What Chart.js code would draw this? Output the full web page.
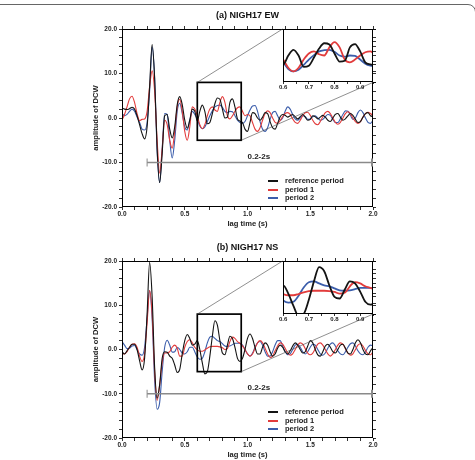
<!DOCTYPE html>
<html>
<head>
<meta charset="utf-8">
<script src="https://cdn.jsdelivr.net/npm/chart.js@4.4.1/dist/chart.umd.min.js"></script>
<style>
  body{margin:0;background:#fff;width:475px;height:460px;overflow:hidden;position:relative}
  canvas{position:absolute;left:0}
  #frame{position:absolute;top:4px;left:-20px;width:494px;height:600px;border:1px solid #666;border-radius:8px}
</style>
</head>
<body>
<div id="frame"></div>
<canvas id="ch-ew"></canvas>
<canvas id="in-ew"></canvas>
<canvas id="ch-ns"></canvas>
<canvas id="in-ns"></canvas>
<script>
// ===================== DATOS =====================
// lag time sampled every 0.02 s from 0 to 2 s
const lagStart=0, lagStep=0.02, lagCount=101;
const lagTimes=Array.from({length:lagCount},(_,i)=>+(lagStart+i*lagStep).toFixed(2));

const seriesLabels=['reference period','period 1','period 2'];
const seriesColors=['#141414','#e23b3b','#3b5dab'];

// (a) NIGH17 EW
const ewReference=[2.2,2.0,1.9,2.1,2.4,2.0,0.5,-1.5,-3.5,-4.7,
  -2.0,7.0,16.5,9.0,-7.0,-14.5,-8.0,0.5,0.8,-2.5,
  -4.5,-2.0,3.0,4.8,3.0,-0.5,-2.3,-0.5,2.0,1.5,
  -0.7,1.5,2.9,1.5,-1.3,-1.0,1.0,3.2,4.5,4.2,
  2.0,0.0,0.2,3.5,4.3,2.5,-0.2,-0.7,-1.0,-2.5,
  -3.0,-1.0,1.2,1.0,0.0,-0.5,0.2,1.2,1.0,-0.8,
  -2.2,-2.5,-1.2,0.3,0.8,0.6,0.2,0.5,0.8,0.3,
  -0.2,0.3,0.8,0.2,-0.5,-0.3,0.5,0.3,-0.2,0.2,
  0.6,0.2,-0.5,-0.8,0.0,0.8,1.0,0.2,-0.5,-0.2,
  0.5,1.0,0.6,-0.3,-1.0,-0.8,0.2,1.0,1.2,0.5,
  0.3];
const ewPeriod1=[-0.5,0.8,2.5,4.3,4.9,3.5,1.0,-0.6,-0.3,-0.2,
  1.5,7.0,10.6,6.0,-5.0,-12.4,-7.0,-0.5,-1.5,-5.0,
  -6.8,-3.0,2.5,4.2,1.5,-3.0,-5.0,-2.0,2.5,2.0,
  0.5,-1.5,-2.4,-1.5,0.5,2.0,2.5,1.8,1.5,3.5,
  4.8,3.5,0.5,-0.2,0.5,1.5,2.3,2.5,1.5,0.5,
  0.8,0.5,-1.0,-2.5,-3.0,-2.2,-0.5,1.0,1.6,1.2,
  0.0,-1.0,-1.2,-0.6,0.3,1.0,1.2,0.8,-0.2,-1.0,
  -1.2,-0.5,0.5,1.2,1.3,0.6,-0.5,-1.3,-1.5,-0.8,
  0.3,1.2,1.5,1.0,0.0,-1.0,-1.4,-1.0,0.0,1.0,
  1.4,1.0,0.0,-0.8,-1.2,-0.8,0.2,1.0,1.3,1.0,
  0.5];
const ewPeriod2=[1.0,0.5,0.8,1.5,2.0,1.5,0.2,-1.0,-2.5,-2.7,
  -1.0,6.0,16.0,9.0,-7.5,-14.5,-7.0,1.0,0.8,-5.0,
  -9.0,-5.0,1.5,3.3,1.0,-2.0,-2.7,-0.5,1.5,0.8,
  -0.2,-1.8,-2.4,-2.0,-0.8,0.5,1.6,2.5,2.8,2.9,
  2.4,1.5,1.2,1.5,1.4,0.5,-0.5,-1.0,-1.2,-0.8,
  0.5,1.8,2.7,2.8,1.5,-0.8,-2.5,-3.0,-2.2,-0.3,
  1.2,1.5,0.5,-0.5,0.0,1.5,2.5,2.0,0.8,-0.2,
  -0.5,0.0,0.5,0.3,-0.3,-0.2,0.3,0.5,0.0,-0.5,
  -0.3,0.3,0.8,0.6,-0.3,-1.0,-1.0,-0.2,0.8,1.6,
  1.5,0.6,-0.3,0.0,1.2,1.8,1.2,0.0,-1.0,-1.2,
  -0.5];

// (b) NIGH17 NS
const nsReference=[-0.5,-1.0,-0.3,0.5,1.2,1.2,0.0,-2.5,-4.6,-2.0,
  8.0,19.7,12.0,-4.0,-11.0,-8.0,-2.0,-0.5,-0.6,-1.5,
  -2.0,-3.5,-5.2,-4.5,-1.0,2.0,3.4,2.5,1.0,1.2,
  2.0,0.0,-3.0,-5.5,-5.0,-1.5,3.0,6.5,5.5,2.0,
  -0.8,-1.2,1.0,3.0,2.5,0.5,-2.0,-2.7,-2.0,0.0,
  2.5,3.5,2.5,0.5,-1.0,-1.0,0.5,1.5,1.0,-0.5,
  -1.5,-1.0,0.3,1.0,0.5,-0.5,-1.0,-0.3,0.8,1.5,
  1.0,0.0,-0.8,-0.5,0.8,2.0,1.5,0.0,-1.2,-1.5,
  -0.5,0.8,1.2,0.5,-0.5,-0.8,0.0,1.0,1.2,0.3,
  -0.8,-1.0,0.0,1.5,2.2,1.5,0.0,-1.0,-1.2,-0.3,
  0.5];
const nsPeriod1=[-0.8,-1.0,-0.5,0.5,1.2,1.3,0.5,-1.5,-2.7,-1.0,
  6.0,13.3,8.0,-5.0,-11.5,-8.0,-3.0,-0.8,-0.8,-0.5,
  0.5,1.0,0.3,-1.5,-1.5,0.5,1.8,2.2,1.5,0.5,
  -0.1,-0.4,-0.4,-0.1,0.3,0.6,0.7,0.7,0.7,0.6,
  0.4,0.0,0.2,1.8,2.8,2.5,1.8,1.4,0.8,0.0,
  -1.0,-1.5,-1.0,0.3,1.5,2.0,1.5,0.3,-1.0,-1.8,
  -1.5,-0.3,0.8,1.5,1.2,0.3,-0.8,-1.3,-1.0,0.0,
  1.0,1.5,1.2,0.2,-0.8,-1.2,-0.8,0.2,1.2,1.5,
  1.0,0.0,-1.0,-1.5,-1.0,0.0,1.0,1.5,1.2,0.2,
  -0.8,-1.3,-1.0,0.0,1.0,1.3,0.8,-0.2,-1.0,-1.2,
  -0.5];
const nsPeriod2=[1.8,1.0,0.2,0.3,0.8,0.9,0.0,-1.0,-1.3,0.5,
  7.0,13.3,7.0,-7.0,-13.5,-12.0,-5.0,0.5,2.1,1.0,
  -0.6,-0.5,0.5,0.0,-0.8,-1.0,-0.5,0.5,0.5,-0.5,
  -1.7,-2.2,-2.0,-0.5,1.5,2.8,3.0,2.5,2.0,1.8,
  1.3,0.8,0.7,0.8,1.1,1.4,1.4,1.4,1.0,0.0,
  -1.0,-1.5,-0.8,0.5,1.5,1.8,1.0,-0.5,-1.5,-1.5,
  -0.5,1.0,2.0,2.0,0.8,-0.5,-1.2,-1.0,0.0,1.0,
  1.2,0.5,-0.5,-1.0,-0.5,0.5,1.2,1.0,0.0,-1.0,
  -1.3,-0.8,0.3,1.2,1.5,0.8,-0.3,-1.0,-1.2,-0.5,
  0.5,1.3,1.5,0.8,-0.3,-1.0,-1.2,-0.5,0.5,1.0,
  0.8];

// ejes, recuadro de zoom y barra de rango
const xRange=[0,2], yRange=[-20,20];
const zoomX=[0.6,0.95], zoomY=[-5,8];          // zoomed window (also inset axes)
const insetSpanX=[1.28,2.0], insetSpanY=[8,20]; // where the inset sits, in main-axis units
const rangeSpan=[0.2,2.0], rangeLevel=-10, rangeText='0.2-2s', rangeLabelAt=1.09;

// ===================== DIBUJO =====================
const FONT='"Liberation Sans", Arial, Helvetica, sans-serif';
Chart.defaults.font.family=FONT;
Chart.defaults.color='#222';

const isMult=(v,m)=>Math.abs(v/m-Math.round(v/m))<1e-6;
const toPts=s=>lagTimes.map((t,k)=>({x:t,y:s[k]}));

const panels=[
  {canvas:'ch-ew',inset:'in-ew',title:'(a) NIGH17 EW',series:[ewReference,ewPeriod1,ewPeriod2],top:0,height:230},
  {canvas:'ch-ns',inset:'in-ns',title:'(b) NIGH17 NS',series:[nsReference,nsPeriod1,nsPeriod2],top:232,height:229}
];

function seg(ctx,x1,y1,x2,y2){ctx.beginPath();ctx.moveTo(x1,y1);ctx.lineTo(x2,y2);ctx.stroke();}

const decor={
  id:'decor',
  afterDatasetsDraw(chart,args,opts){
    const {ctx,chartArea:a,scales:{x,y}}=chart;
    ctx.save();
    // marco
    ctx.strokeStyle='#000';ctx.lineWidth=1;
    ctx.strokeRect(Math.round(a.left)+0.5,Math.round(a.top)+0.5,Math.round(a.right-a.left)-1,Math.round(a.bottom-a.top)-1);
    // barra 0.2-2s
    const rl=x.getPixelForValue(rangeSpan[0]),rr=x.getPixelForValue(rangeSpan[1]),ry=y.getPixelForValue(rangeLevel);
    ctx.strokeStyle='#8a8a8a';ctx.lineWidth=1.6;
    seg(ctx,rl,ry,rr,ry);
    ctx.lineWidth=1;seg(ctx,rl,ry-4,rl,ry+4);
    ctx.lineWidth=2;seg(ctx,rr-1,ry-4,rr-1,ry+4);
    ctx.fillStyle='#222';ctx.font='bold 8px '+FONT;ctx.textAlign='center';ctx.textBaseline='alphabetic';
    ctx.fillText(rangeText,x.getPixelForValue(rangeLabelAt),ry-4);
    // recuadro + conectores
    const bl=x.getPixelForValue(zoomX[0]),br=x.getPixelForValue(zoomX[1]);
    const bt=y.getPixelForValue(zoomY[1]),bb=y.getPixelForValue(zoomY[0]);
    ctx.strokeStyle='#000';ctx.lineWidth=1.7;ctx.strokeRect(bl,bt,br-bl,bb-bt);
    ctx.strokeStyle='#444';ctx.lineWidth=0.6;
    seg(ctx,bl,bt,x.getPixelForValue(insetSpanX[0]),y.getPixelForValue(insetSpanY[1]));
    seg(ctx,br,bb,x.getPixelForValue(insetSpanX[1]),y.getPixelForValue(insetSpanY[0]));
    // leyenda
    const rows=[-26,-17,-9];
    ctx.font='bold 7.5px '+FONT;ctx.textAlign='left';ctx.textBaseline='middle';ctx.fillStyle='#222';
    chart.data.datasets.forEach((d,i)=>{
      const ly=a.bottom+rows[i];
      ctx.strokeStyle=d.borderColor;ctx.lineWidth=2;
      seg(ctx,a.left+146,ly,a.left+156,ly);
      ctx.fillText(d.label,a.left+163,ly);
    });
    // titulo
    ctx.font='bold 9px '+FONT;ctx.textAlign='center';ctx.fillStyle='#111';
    ctx.fillText(opts.title,(a.left+a.right)/2,a.top-13);
    ctx.restore();
  }
};

const insetFrame={
  id:'insetFrame',
  beforeDatasetsDraw(chart){
    const {ctx,chartArea:a}=chart;
    ctx.save();ctx.fillStyle='#fff';ctx.fillRect(a.left,a.top,a.right-a.left,a.bottom-a.top);ctx.restore();
  },
  afterDatasetsDraw(chart){
    const {ctx,chartArea:a}=chart;
    ctx.save();ctx.strokeStyle='#000';ctx.lineWidth=1;
    ctx.strokeRect(Math.round(a.left)+0.5,Math.round(a.top)+0.5,Math.round(a.right-a.left)-1,Math.round(a.bottom-a.top)-1);
    ctx.restore();
  }
};

const tickGrid={drawOnChartArea:false,drawTicks:true,tickLength:3,color:'#000',lineWidth:0.8};

function mainChart(p){
  const el=document.getElementById(p.canvas);
  el.width=475;el.height=p.height;el.style.top=p.top+'px';
  return new Chart(el,{
    type:'line',
    data:{datasets:p.series.map((s,i)=>({label:seriesLabels[i],data:toPts(s),borderColor:seriesColors[i],
      borderWidth:1.1,pointRadius:0,cubicInterpolationMode:'monotone',fill:false}))},
    options:{responsive:false,animation:false,devicePixelRatio:1,
      layout:{padding:{left:91,right:98,top:25,bottom:2}},
      plugins:{legend:{display:false},tooltip:{enabled:false},title:{display:false},decor:{title:p.title}},
      scales:{
        x:{type:'linear',position:'bottom',min:xRange[0],max:xRange[1],
          ticks:{stepSize:0.1,autoSkip:false,maxRotation:0,padding:0,font:{size:6.5,weight:'bold'},
            callback:v=>isMult(v,0.5)?v.toFixed(1):''},
          grid:tickGrid,border:{display:false},
          title:{display:true,text:'lag time (s)',font:{size:7.6,weight:'bold'},padding:0},
          afterFit:s=>{s.height=21;}},
        x2:{type:'linear',axis:'x',position:'top',min:xRange[0],max:xRange[1],
          ticks:{display:false,stepSize:0.1,autoSkip:false},grid:tickGrid,border:{display:false},
          afterFit:s=>{s.height=4;}},
        y:{type:'linear',position:'left',min:yRange[0],max:yRange[1],
          ticks:{stepSize:2,autoSkip:false,padding:2,font:{size:6.5,weight:'bold'},
            callback:v=>isMult(v,10)?v.toFixed(1):''},
          grid:tickGrid,border:{display:false},
          title:{display:true,text:'amplitude of DCW',font:{size:7.6,weight:'bold'},padding:0},
          afterFit:s=>{s.width=31;}},
        y2:{type:'linear',axis:'y',position:'right',min:yRange[0],max:yRange[1],
          ticks:{display:false,stepSize:2,autoSkip:false},grid:tickGrid,border:{display:false},
          afterFit:s=>{s.width=4;}}
      }},
    plugins:[decor]
  });
}

function insetChart(p,main){
  const el=document.getElementById(p.inset);
  const xs=main.scales.x,ys=main.scales.y;
  const L=Math.round(xs.getPixelForValue(insetSpanX[0])),R=Math.round(xs.getPixelForValue(insetSpanX[1]));
  const T=Math.round(ys.getPixelForValue(insetSpanY[1])),B=Math.round(ys.getPixelForValue(insetSpanY[0]));
  const pad=4,axB=12,axR=3;
  el.width=R-L+pad*2+axR;el.height=B-T+pad+axB;
  el.style.left=(L-pad)+'px';el.style.top=(p.top+T-pad)+'px';
  return new Chart(el,{
    type:'line',
    data:{datasets:p.series.map((s,i)=>({label:seriesLabels[i],data:toPts(s),borderColor:seriesColors[i],
      borderWidth:1.8,pointRadius:0,cubicInterpolationMode:'monotone',fill:false}))},
    options:{responsive:false,animation:false,devicePixelRatio:1,
      layout:{padding:{left:pad,right:pad,top:pad,bottom:0}},
      plugins:{legend:{display:false},tooltip:{enabled:false}},
      scales:{
        x:{type:'linear',min:zoomX[0],max:zoomX[1],
          ticks:{stepSize:0.05,autoSkip:false,maxRotation:0,padding:0,font:{size:6,weight:'bold'},
            callback:v=>isMult(v,0.1)?v.toFixed(1):''},
          grid:{...tickGrid,tickLength:2},border:{display:false},
          afterFit:s=>{s.height=axB;}},
        y:{type:'linear',position:'right',min:zoomY[0],max:zoomY[1],
          ticks:{display:false,stepSize:2.5,autoSkip:false},grid:tickGrid,border:{display:false},
          afterFit:s=>{s.width=axR;}}
      }},
    plugins:[insetFrame]
  });
}

panels.forEach(p=>{
  const m=mainChart(p);
  insetChart(p,m);
});
</script>
</body>
</html>
